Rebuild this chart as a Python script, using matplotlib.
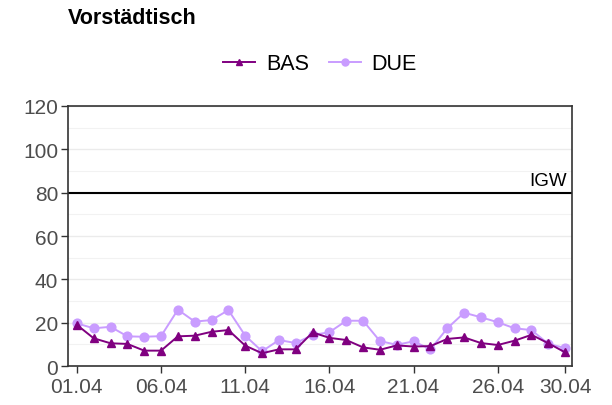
import matplotlib
matplotlib.use("Agg")
import matplotlib.pyplot as plt
from matplotlib.ticker import MultipleLocator

plt.rcParams['font.family'] = ['Liberation Sans', 'DejaVu Sans']

# Daten (April, Tageswerte)
days = list(range(1, 31))
bas = [19.0, 12.8, 10.5, 10.2, 7.1, 7.1, 13.7, 14.0, 15.8, 16.6,
       9.4, 5.9, 7.7, 7.7, 15.5, 13.0, 12.0, 8.6, 7.5, 9.5,
       9.0, 9.2, 12.5, 13.2, 10.6, 9.7, 11.7, 14.4, 10.5, 6.3]
due = [19.7, 17.4, 18.1, 13.7, 13.5, 13.8, 26.0, 20.5, 21.2, 25.8,
       14.0, 6.8, 12.0, 10.6, 14.3, 15.6, 20.9, 20.9, 11.5, 9.8,
       11.4, 7.7, 17.4, 24.6, 22.5, 20.2, 17.4, 16.6, 10.2, 8.3]
tick_days = [1, 6, 11, 16, 21, 26, 30]
tick_labels = ['01.04', '06.04', '11.04', '16.04', '21.04', '26.04', '30.04']
igw = 80

fig = plt.figure(figsize=(6.12, 4.06), dpi=100)
ax = fig.add_axes([0.111, 0.096, 0.824, 0.6405])

ax.yaxis.set_major_locator(MultipleLocator(20))
ax.yaxis.set_minor_locator(MultipleLocator(10))
ax.grid(axis='y', which='major', color='#ebebeb', lw=1.0)
ax.grid(axis='y', which='minor', color='#f2f2f2', lw=0.8)
ax.set_axisbelow(True)

ax.axhline(igw, color='black', lw=1.5, zorder=2)
ax.text(30.1, igw + 1.5, 'IGW', ha='right', va='bottom', fontsize=13.5, color='black')

ax.plot(days, due, color='#c99cff', marker='o', markersize=6.3, lw=1.4, label='DUE', zorder=3)
ax.plot(days, bas, color='#800080', marker='^', markersize=6.0, lw=1.4, label='BAS', zorder=4)

ax.set_xlim(0.47, 30.42)
ax.set_ylim(0, 120)
ax.set_xticks(tick_days)
ax.set_xticklabels(tick_labels)
ax.tick_params(axis='both', which='major', labelsize=15, labelcolor='#4d4d4d',
               color='#333333', length=5, width=1, pad=2)
ax.tick_params(axis='x', which='major', pad=3)
ax.tick_params(axis='y', which='minor', length=0)
for s in ax.spines.values():
    s.set_color('#333333')
    s.set_linewidth(1.2)

h, l = ax.get_legend_handles_labels()
fig.legend([h[1], h[0]], [l[1], l[0]], loc='center', bbox_to_anchor=(0.523, 0.84),
           ncol=2, frameon=False, fontsize=15.5, handlelength=1.5, handletextpad=0.5,
           columnspacing=0.9, markerscale=0.8)

fig.text(0.111, 0.955, 'Vorstädtisch', fontsize=15.5, fontweight='bold', ha='left', va='center')

fig.savefig('out.png', dpi=100)
